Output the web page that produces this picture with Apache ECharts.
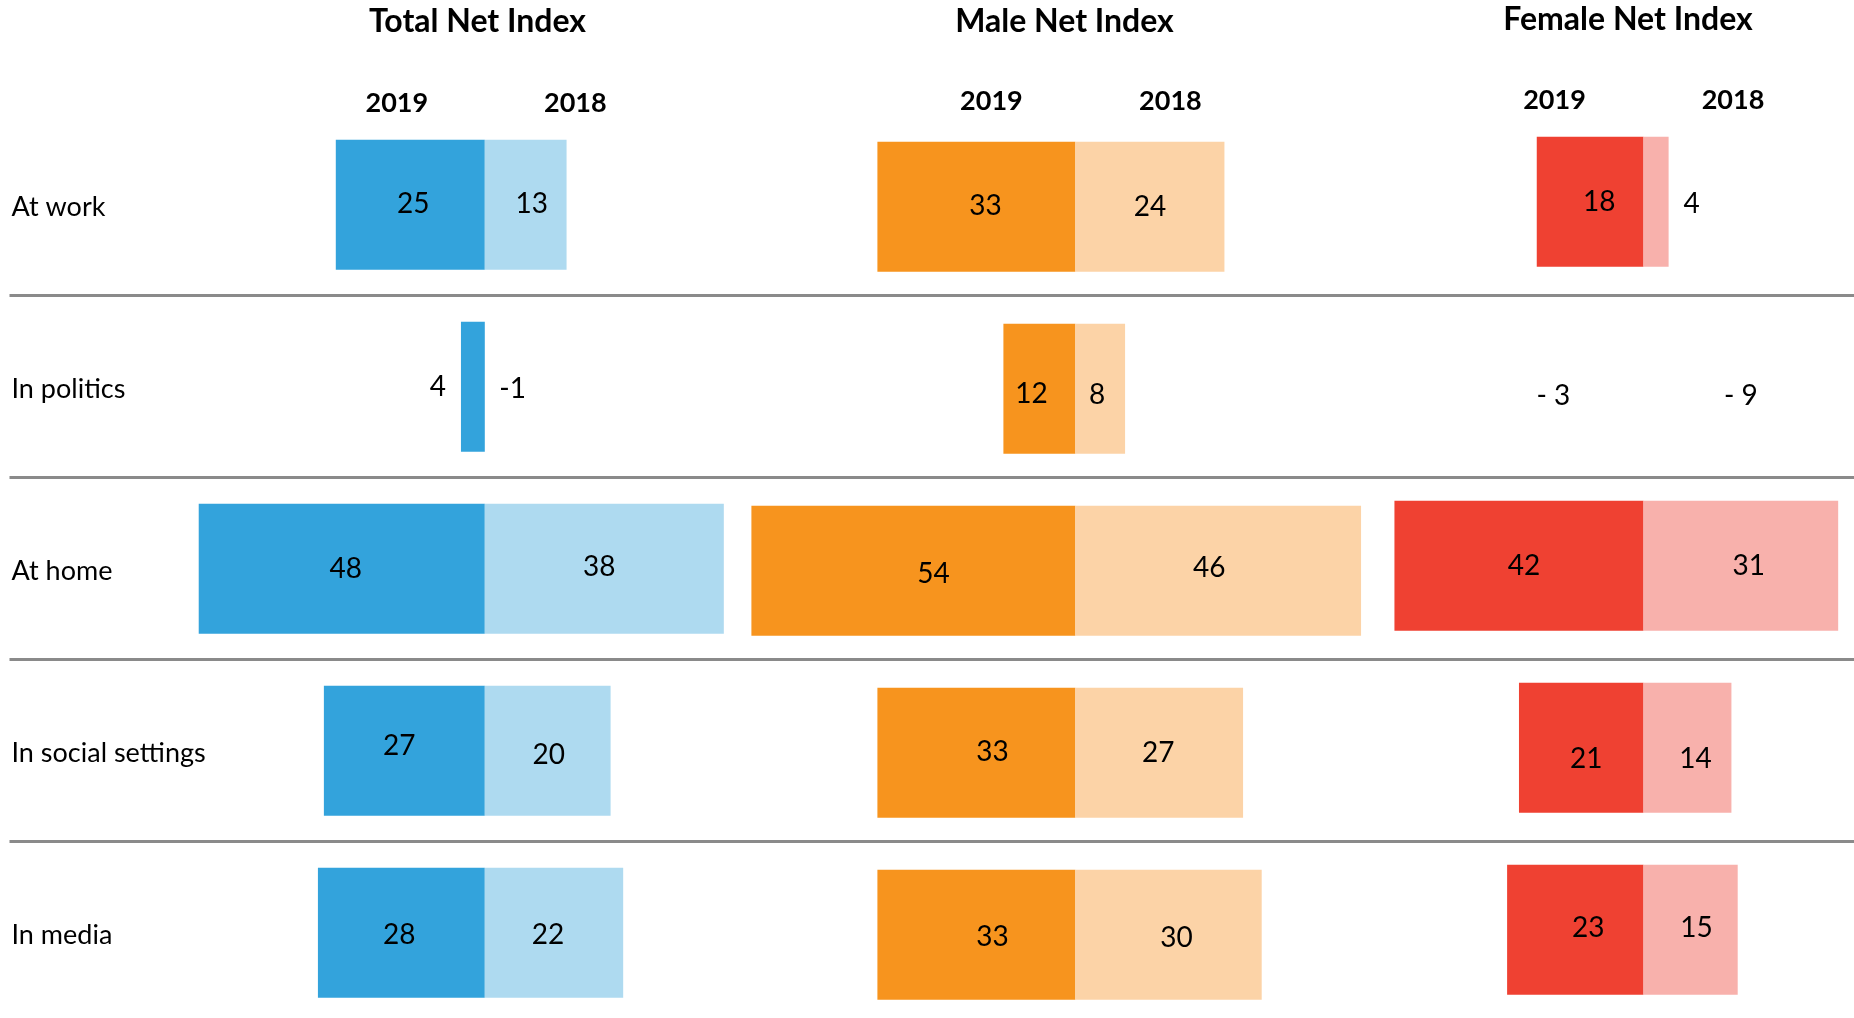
<!DOCTYPE html>
<html><head><meta charset="utf-8">
<script src="https://cdn.jsdelivr.net/npm/echarts@6/dist/echarts.min.js"></script>
<style>html,body{margin:0;padding:0;background:#fff}#c{width:1854px;height:1018px}</style>
</head><body><div id="c"></div>
<script>
// ---------- data ----------
const categories = ['At work', 'In politics', 'At home', 'In social settings', 'In media'];
const panelTitles = ['Total Net Index', 'Male Net Index', 'Female Net Index'];
const years = ['2019', '2018'];
const total2019 = [25, 4, 48, 27, 28];
const total2018 = [13, -1, 38, 20, 22];
const male2019 = [33, 12, 54, 33, 33];
const male2018 = [24, 8, 46, 27, 30];
const female2019 = [18, -3, 42, 21, 23];
const female2018 = [4, -9, 31, 14, 15];

// ---------- layout / style ----------
const FONT = 'Lato, "Open Sans", sans-serif';
const AXMAX = 60, ROWS_H = 910, BAR_W = 130;
// small hand-placement nudges of the value labels (px), per row
const nudge = {
  t19: [[3, -1], [0, 0], [4, 0], [-5, -5], [-2, 2]],
  t18: [[6, -1], [0, 0], [-5, -2], [1, 4], [-6, 2]],
  m19: [[9, -1], [-8, 5], [20, 3], [16, -1], [16, 2]],
  m18: [[0, 0], [-3, 6], [-9, -3], [-1, 0], [8, 3]],
  f19: [[9, 0], [0, 0], [5, 0], [5, 11], [13, -2]],
  f18: [[0, 2], [0, 0], [8, 0], [8, 11], [6, -2]]
};
const panels = [
  { title: panelTitles[0], v19: total2019, v18: total2018, n19: nudge.t19, n18: nudge.t18, cx: 484.8, top: 113.7, s19: 5.96, s18: 6.29,
    c19: '#33A3DC', c18: '#AEDAF0', titleX: 477.5, titleY: 21.5, yearDx: [-88, 90.5], yearY: 103.5,
    neg19: [0, 0], neg18: [31, 2], negFmt: v => String(v) },
  { title: panelTitles[1], v19: male2019, v18: male2018, n19: nudge.m19, n18: nudge.m18, cx: 1075.4, top: 115.8, s19: 6.0, s18: 6.21,
    c19: '#F7941E', c18: '#FCD3A7', titleX: 1064.5, titleY: 21.7, yearDx: [-84, 95], yearY: 100.8,
    neg19: [0, 0], neg18: [0, 0], negFmt: v => String(v) },
  { title: panelTitles[2], v19: female2019, v18: female2018, n19: nudge.f19, n18: nudge.f18, cx: 1643.5, top: 110.8, s19: 5.93, s18: 6.28,
    c19: '#EF4132', c18: '#F8B1AC', titleX: 1628, titleY: 20, yearDx: [-89, 89.5], yearY: 100,
    neg19: [-99, 12], neg18: [125.6, 12], negFmt: v => '- ' + Math.abs(v) }
];

const grid = [], xAxis = [], yAxis = [], series = [], title = [];

// separator / category label grid
grid.push({ left: 9.5, right: 0, top: 113.7, height: ROWS_H, outerBoundsMode: 'none', containLabel: false });
xAxis.push({ type: 'value', gridIndex: 0, show: false });
yAxis.push({
  type: 'category', gridIndex: 0, inverse: true, data: categories,
  axisLine: { show: false }, axisTick: { show: false },
  axisLabel: { inside: true, margin: 2, verticalAlign: 'top', lineHeight: 6, color: '#000', fontFamily: FONT, fontSize: 27 },
  splitLine: { show: true, interval: (i) => i !== 0, lineStyle: { color: '#8a8a8a', width: 3 } }
});

function makeSeries(vals, nudges, color, idx, negOffset, negFmt) {
  return {
    type: 'bar', xAxisIndex: idx, yAxisIndex: idx, barWidth: BAR_W, clip: false, silent: true,
    itemStyle: { color },
    label: { show: true, position: 'inside', color: '#000', fontFamily: FONT, fontSize: 28 },
    data: vals.map((v, i) => {
      const item = { value: v };
      if (v < 0) {
        item.itemStyle = { color: 'rgba(0,0,0,0)' };
        item.label = { position: 'inside', offset: negOffset, formatter: negFmt(v) };
      } else if (v < 5) {
        item.label = { position: 'outside', distance: 15, offset: nudges[i] };
      } else {
        item.label = { offset: nudges[i] };
      }
      return item;
    })
  };
}

panels.forEach(p => {
  const w19 = AXMAX * p.s19, w18 = AXMAX * p.s18;
  // 2019 grid (left, inverted)
  let gi = grid.length;
  grid.push({ left: p.cx - w19, width: w19, top: p.top, height: ROWS_H, outerBoundsMode: 'none', containLabel: false });
  xAxis.push({ type: 'value', gridIndex: gi, min: 0, max: AXMAX, inverse: true, show: false });
  yAxis.push({ type: 'category', gridIndex: gi, inverse: true, data: categories, show: false });
  series.push(makeSeries(p.v19, p.n19, p.c19, gi, p.neg19, p.negFmt));
  // 2018 grid (right)
  gi = grid.length;
  grid.push({ left: p.cx, width: w18, top: p.top, height: ROWS_H, outerBoundsMode: 'none', containLabel: false });
  xAxis.push({ type: 'value', gridIndex: gi, min: 0, max: AXMAX, show: false });
  yAxis.push({ type: 'category', gridIndex: gi, inverse: true, data: categories, show: false });
  series.push(makeSeries(p.v18, p.n18, p.c18, gi, p.neg18, p.negFmt));

  title.push({ text: p.title, left: p.titleX, top: p.titleY, textAlign: 'center', textVerticalAlign: 'middle', padding: 0,
    textStyle: { fontFamily: FONT, fontSize: 32, fontWeight: 'bold', color: '#000' } });
  years.forEach((y, k) => {
    title.push({ text: y, left: p.cx + p.yearDx[k], top: p.yearY, textAlign: 'center', textVerticalAlign: 'middle', padding: 0,
      textStyle: { fontFamily: FONT, fontSize: 27, fontWeight: 'bold', color: '#000' } });
  });
});

const chart = echarts.init(document.getElementById('c'), null, { renderer: 'canvas' });
chart.setOption({ animation: false, backgroundColor: '#fff', title, grid, xAxis, yAxis, series });
</script>
</body></html>
